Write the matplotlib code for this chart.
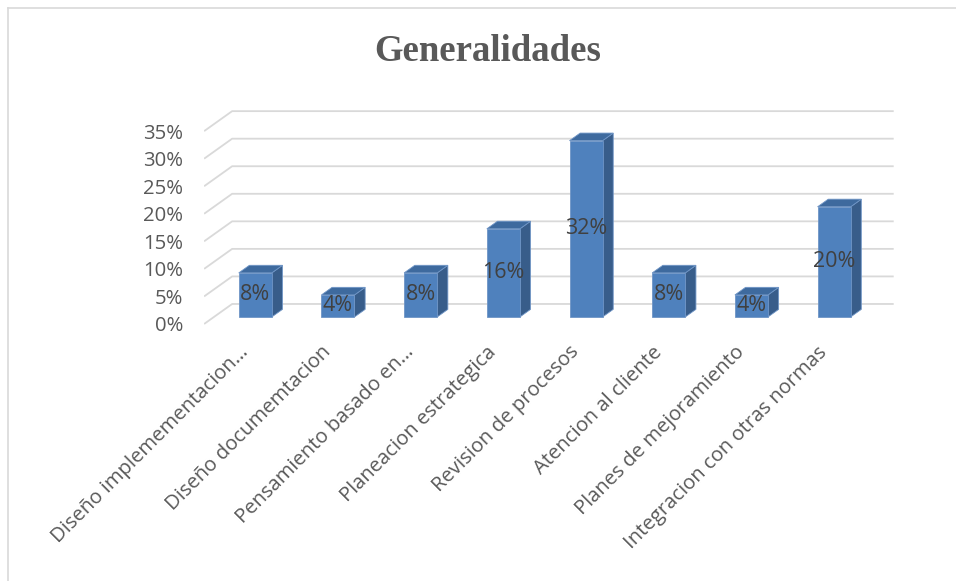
import matplotlib
matplotlib.use("Agg")
import matplotlib.pyplot as plt
from matplotlib.patches import Polygon
from matplotlib.lines import Line2D

# datos
categorias = [
    "Diseño implemementacion…",
    "Diseño documemtacion",
    "Pensamiento basado en…",
    "Planeacion estrategica",
    "Revision de procesos",
    "Atencion al cliente",
    "Planes de mejoramiento",
    "Integracion con otras normas",
]
porcentajes = [8, 4, 8, 16, 32, 8, 4, 20]
ticks_y = [0, 5, 10, 15, 20, 25, 30, 35]
titulo = "Generalidades"

# estilo
FRENTE = "#4F81BD"
LADO = "#385D8A"
TAPA = "#3E6A9E"
BORDE = "#6F95C6"
GRID = "#D9D9D9"
TEXTO = "#595959"

OX, OY = 0.339, 3.63      # profundidad del "piso" 3D (unidades de datos)
F0, FD = 0.35, 0.38       # posicion y profundidad de la barra
ANCHO = 0.4

plt.rcParams['font.family'] = ['Open Sans', 'DejaVu Sans']

fig = plt.figure(figsize=(9.56, 5.81), dpi=100)
ax = fig.add_axes([0.2135, 0.4329, 0.7266, 0.3888])
ax.set_xlim(-0.5, 7.9)
ax.set_ylim(-1, 40)

x_izq, x_der = -0.5, len(categorias) - 0.5

# lineas de la cuadricula (pared lateral + pared del fondo)
for v in ticks_y:
    ax.plot([x_izq, x_izq + OX, x_der + OX], [v, v + OY, v + OY],
            color=GRID, lw=1.3, solid_capstyle='butt', zorder=1)

# barras 3D
for i, v in enumerate(porcentajes):
    x0 = i - ANCHO / 2 + F0 * OX
    x1 = i + ANCHO / 2 + F0 * OX
    y0 = F0 * OY
    y1 = v + F0 * OY
    dx, dy = FD * OX, FD * OY
    frente = Polygon([(x0, y0), (x1, y0), (x1, y1), (x0, y1)], closed=True,
                     facecolor=FRENTE, edgecolor=BORDE, lw=0.6, zorder=3)
    lado = Polygon([(x1, y0), (x1 + dx, y0 + dy), (x1 + dx, y1 + dy), (x1, y1)],
                   closed=True, facecolor=LADO, edgecolor=BORDE, lw=0.6, zorder=3)
    tapa = Polygon([(x0, y1), (x1, y1), (x1 + dx, y1 + dy), (x0 + dx, y1 + dy)],
                   closed=True, facecolor=TAPA, edgecolor=BORDE, lw=0.6, zorder=3)
    for p in (lado, tapa, frente):
        ax.add_patch(p)
    ax.text((x0 + x1) / 2, (y0 + y1) / 2, f"{v}%", ha='center', va='center',
            fontsize=15.5, color="#404040", zorder=4)

# etiquetas del eje x
for i, nombre in enumerate(categorias):
    ax.text(i + 0.0, -4.6, nombre, rotation=45, rotation_mode='anchor',
            ha='right', va='center', fontsize=14.6, color=TEXTO)

ax.set_xticks([])
ax.set_yticks(ticks_y)
ax.set_yticklabels([f"{v}%" for v in ticks_y], fontsize=14.6, color=TEXTO)
ax.tick_params(axis='y', length=0, pad=15)
for s in ax.spines.values():
    s.set_visible(False)

fig.text(0.51, 1 - 61 / 581, titulo, ha='center', va='baseline',
         fontsize=26.5, fontweight='bold', family='Liberation Serif', color=TEXTO)

# borde del grafico
bx, by = 7.5 / 956, 1 - 7.5 / 581
fig.add_artist(Line2D([bx, bx], [0, by], color=GRID, lw=1.2))
fig.add_artist(Line2D([bx, 1], [by, by], color=GRID, lw=1.2))

fig.savefig("out.png", dpi=100)
